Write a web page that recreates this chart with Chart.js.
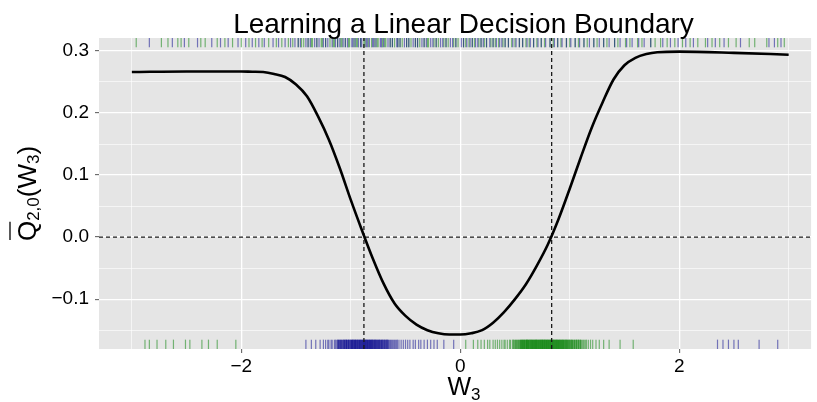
<!DOCTYPE html>
<html>
<head>
<meta charset="utf-8">
<script src="https://cdn.jsdelivr.net/npm/chart.js@4"></script>
<style>
  body { margin: 0; background: #fff; }
  #chart { display: block; }
</style>
</head>
<body>
<canvas id="chart" width="817" height="402"></canvas>
<script>
// Крива Q(W3)
const curveX = [-3.0, -2.5, -2.0, -1.9, -1.8, -1.7, -1.6, -1.5, -1.4, -1.3, -1.2, -1.1, -1.0, -0.9, -0.8, -0.7, -0.6, -0.5, -0.4, -0.3, -0.2, -0.1,
    0.0, 0.1, 0.2, 0.3, 0.4, 0.5, 0.6, 0.7, 0.8, 0.9, 1.0, 1.1, 1.2, 1.3, 1.4, 1.5, 1.6, 1.7, 1.8, 2.0, 2.5, 3.0];
const curveY = [0.266, 0.267, 0.267, 0.2665, 0.266, 0.263, 0.258, 0.246, 0.227, 0.195, 0.157, 0.111, 0.060, 0.012, -0.034, -0.075, -0.107, -0.127, -0.141, -0.150, -0.155, -0.157,
    -0.157, -0.155, -0.150, -0.138, -0.121, -0.100, -0.076, -0.046, -0.012, 0.030, 0.078, 0.128, 0.176, 0.217, 0.254, 0.277, 0.289, 0.295, 0.298, 0.299, 0.297, 0.294];

// Пунктирні межі
const boundaryX = [-0.88, 0.835];
const refY = [0];

// Килимок (rug) зверху
const rugTopBlue = [-2.84, -2.63, -2.52, -2.40, -2.27, -2.19, -2.12, -2.03, -1.96, -1.90, -1.84, -1.79, -1.71, -1.66, -1.60, -1.55, -1.51, -1.46,
    -1.41, -1.37, -1.33, -1.29, -1.25, -1.21, -1.17, -1.14, -1.10, -1.07, -1.03, -0.99, -0.96, -0.93, -0.90, -0.86, -0.83, -0.80, -0.77, -0.73,
    -0.70, -0.66, -0.62, -0.58, -0.55, -0.51, -0.47, -0.43, -0.39, -0.35, -0.31, -0.27, -0.22, -0.18, -0.13, -0.09, -0.04, 0.01, 0.06, 0.11,
    0.16, 0.21, 0.27, 0.33, 0.38, 0.44, 0.51, 0.57, 0.64, 0.71, 0.78, 0.86, 0.93, 1.01, 1.09, 1.18, 1.27, 1.36, 1.46, 1.57, 1.68, 1.85, 1.92,
    1.99, 2.06, 2.13, 2.26, 2.33, 2.41, 2.56, 2.82, 2.87, 2.93,
    -1.48, -1.39, -1.31, -1.23, -1.12, -1.05, -0.98, -0.91, -0.85, -0.79, -0.72, -0.64, -0.57, -0.49, -0.41, -0.33, -0.25, -0.16, -0.07,
    0.03, 0.09, 0.14, 0.19, 0.24, 0.30, 0.36, 0.41, 0.48, 0.54, 0.61, 0.67, 0.74, 0.82, 0.89, 0.97, 1.05, 1.13, 1.22, 1.31, 1.41, 1.52, 1.63, 1.74];
const rugTopGreen = [-2.96, -2.73, -2.67, -2.58, -2.55, -2.48, -2.37, -2.33, -2.22, -2.15, -2.08, -2.00, -1.93, -1.87, -1.81, -1.75, -1.68, -1.63,
    -1.57, -1.53, -1.48, -1.43, -1.39, -1.35, -1.31, -1.27, -1.23, -1.19, -1.15, -1.12, -1.08, -1.05, -1.01, -0.97, -0.94, -0.91, -0.88, -0.84,
    -0.81, -0.78, -0.75, -0.71, -0.68, -0.64, -0.60, -0.57, -0.53, -0.49, -0.45, -0.41, -0.37, -0.33, -0.29, -0.24, -0.20, -0.15, -0.11, -0.06,
    -0.02, 0.03, 0.08, 0.13, 0.19, 0.24, 0.30, 0.35, 0.41, 0.47, 0.54, 0.60, 0.67, 0.74, 0.82, 0.89, 0.97, 1.05, 1.13, 1.22, 1.31, 1.41, 1.51,
    1.62, 1.74, 1.83, 1.89, 1.96, 2.03, 2.10, 2.17, 2.24, 2.30, 2.37, 2.45, 2.52, 2.64, 2.69, 2.80, 2.90, 2.96,
    -1.45, -1.36, -1.26, -1.16, -1.09, -1.02, -0.95, -0.87, -0.76, -0.69, -0.62, -0.55, -0.47, -0.39, -0.30, -0.22, -0.13, -0.04,
    0.05, 0.11, 0.17, 0.22, 0.28, 0.32, 0.39, 0.44, 0.50, 0.57, 0.63, 0.70, 0.77, 0.85, 0.92, 1.00, 1.08, 1.16, 1.25, 1.34, 1.44, 1.55, 1.66, 1.78];

// Килимок знизу
const rugBottomBlue = [-1.41, -1.36, -1.32, -1.28, -1.25, -1.23, -1.21, -1.20, -1.18, -1.17, -1.15, -1.14,
    -1.128, -1.121, -1.115, -1.108, -1.101, -1.096, -1.089, -1.083, -1.077, -1.071, -1.066, -1.059, -1.054, -1.048, -1.042, -1.037,
    -1.031, -1.026, -1.019, -1.014, -1.008, -1.003, -0.998, -0.992, -0.987, -0.981, -0.976, -0.971, -0.965, -0.959, -0.954, -0.949,
    -0.944, -0.938, -0.933, -0.927, -0.922, -0.917, -0.911, -0.906, -0.901, -0.895, -0.889, -0.884, -0.879, -0.873, -0.868, -0.862,
    -0.857, -0.851, -0.846, -0.841, -0.835, -0.829, -0.824, -0.818, -0.813, -0.807, -0.801, -0.796, -0.789, -0.783, -0.777, -0.771,
    -0.764, -0.758, -0.752, -0.745, -0.738, -0.732, -0.725, -0.718, -0.711, -0.703, -0.696, -0.688, -0.681, -0.673, -0.665, -0.657,
    -0.648, -0.639, -0.631, -0.622, -0.613, -0.603, -0.594, -0.584, -0.574,
    -0.56, -0.54, -0.52, -0.50, -0.48, -0.46, -0.43, -0.41, -0.38, -0.36, -0.33, -0.30, -0.27, -0.24, -0.21, -0.15, -0.06,
    2.35, 2.40, 2.45, 2.50, 2.54, 2.73, 2.90,
    -1.11, -1.09, -1.06, -1.04, -1.02, -0.995, -0.984, -0.968, -0.957, -0.941, -0.925, -0.914, -0.898, -0.887, -0.876, -0.865, -0.853,
    -0.843, -0.832, -0.821, -0.810, -0.798, -0.786, -0.774, -0.761, -0.748, -0.735, -0.721, -0.707, -0.692, -0.677, -0.661];
const rugBottomGreen = [-2.88, -2.84, -2.77, -2.69, -2.62, -2.51, -2.47, -2.36, -2.30, -2.22, -2.05,
    0.05, 0.12, 0.16, 0.19, 0.22, 0.25, 0.27, 0.30, 0.32, 0.34, 0.36, 0.38, 0.40, 0.41, 0.43, 0.45, 0.46,
    0.478, 0.486, 0.493, 0.501, 0.507, 0.512, 0.519, 0.526, 0.531, 0.538, 0.544, 0.549, 0.556, 0.561, 0.567, 0.572, 0.579, 0.584,
    0.588, 0.594, 0.601, 0.606, 0.611, 0.617, 0.622, 0.628, 0.633, 0.638, 0.644, 0.651, 0.655, 0.661, 0.666, 0.672, 0.677, 0.683,
    0.688, 0.694, 0.699, 0.704, 0.711, 0.716, 0.722, 0.727, 0.731, 0.737, 0.743, 0.748, 0.752, 0.758, 0.764, 0.769, 0.774, 0.781,
    0.786, 0.791, 0.797, 0.803, 0.808, 0.813, 0.819, 0.824, 0.829, 0.836, 0.841, 0.846, 0.852, 0.857, 0.863, 0.868, 0.874, 0.879,
    0.885, 0.891, 0.896, 0.902, 0.907, 0.913, 0.919, 0.924, 0.931, 0.937, 0.942, 0.948, 0.955, 0.961, 0.968, 0.974, 0.981, 0.987,
    0.994, 1.002, 1.009, 1.017, 1.024, 1.032, 1.041, 1.049, 1.058, 1.066, 1.075, 1.084, 1.093, 1.103, 1.112, 1.122, 1.131, 1.142, 1.153,
    1.17, 1.19, 1.21, 1.24, 1.27, 1.31, 1.36, 1.46, 1.58,
    0.553, 0.565, 0.576, 0.591, 0.604, 0.614, 0.625, 0.641, 0.653, 0.664, 0.675, 0.686, 0.697, 0.708, 0.719, 0.733, 0.745, 0.756, 0.767,
    0.778, 0.789, 0.800, 0.811, 0.822, 0.833, 0.844, 0.855, 0.866, 0.877, 0.888, 0.899, 0.911, 0.922, 0.934, 0.946, 0.958, 0.971, 0.984,
    0.998, 1.013, 1.028, 1.045, 1.062, 1.080, 1.098];

// Поділки осей
const xTicks = [-3, -2, -1, 0, 1, 2, 3];
const xLabelTicks = [-2, 0, 2];
const yTicks = [-0.15, -0.1, -0.05, 0, 0.05, 0.1, 0.15, 0.2, 0.25, 0.3];
const yLabelTicks = [-0.1, 0, 0.1, 0.2, 0.3];

const X_MIN = -3.30, X_MAX = 3.205;
const Y_MIN = -0.1803, Y_MAX = 0.3209;

const FONT = '"Liberation Sans", Arial, Helvetica, sans-serif';
const BLUE = 'rgba(0, 0, 139, 0.5)';
const GREEN = 'rgba(0, 128, 0, 0.5)';

const rugTopY = Y_MAX - (Y_MAX - Y_MIN) * 0.015;
const rugBottomY = Y_MIN + (Y_MAX - Y_MIN) * 0.015;

function isLabelTick(list, v) {
    return list.some(t => Math.abs(t - v) < 1e-9);
}

function fmtY(v) {
    const s = Math.abs(v).toFixed(1);
    return v < -1e-9 ? '\u2212' + s : s;
}

function rugDataset(xs, y, color) {
    return {
        data: xs.map(x => ({ x: x, y: y })),
        showLine: false,
        pointStyle: 'line',
        pointRotation: 90,
        pointRadius: 4.7,
        pointHoverRadius: 4.7,
        borderColor: color,
        backgroundColor: color,
        borderWidth: 1.2
    };
}

function dashedDataset(points) {
    return {
        data: points,
        showLine: true,
        borderColor: '#1a1a1a',
        borderWidth: 1.3,
        borderDash: [4, 3],
        pointRadius: 0,
        fill: false
    };
}

// Фон панелі в стилі ggplot
const panelBg = {
    id: 'panelBg',
    beforeDraw(chart) {
        const a = chart.chartArea;
        const ctx = chart.ctx;
        ctx.save();
        ctx.fillStyle = '#E5E5E5';
        ctx.fillRect(a.left, a.top, a.right - a.left, a.bottom - a.top);
        ctx.restore();
    }
};

// Малює послідовність шматків тексту з підрядковими індексами
function drawPieces(ctx, pieces, startX) {
    let x = startX;
    pieces.forEach(p => {
        ctx.font = p.size + 'px ' + FONT;
        ctx.fillText(p.t, x, p.dy || 0);
        const w = ctx.measureText(p.t).width;
        if (p.over) {
            ctx.beginPath();
            ctx.lineWidth = 1.3;
            ctx.moveTo(x + 1, -26);
            ctx.lineTo(x + w - 1, -26);
            ctx.stroke();
        }
        x += w;
    });
}

function piecesWidth(ctx, pieces) {
    return pieces.reduce((s, p) => {
        ctx.font = p.size + 'px ' + FONT;
        return s + ctx.measureText(p.t).width;
    }, 0);
}

const labelsPlugin = {
    id: 'labelsPlugin',
    afterDraw(chart) {
        const ctx = chart.ctx;
        ctx.save();
        ctx.fillStyle = '#000';
        ctx.strokeStyle = '#000';
        ctx.textBaseline = 'alphabetic';
        ctx.textAlign = 'left';

        // Заголовок
        ctx.font = '28px ' + FONT;
        ctx.textAlign = 'center';
        ctx.fillText('Learning a Linear Decision Boundary', 463.5, 33);
        ctx.textAlign = 'left';

        // Підпис осі X
        const xPieces = [{ t: 'W', size: 25 }, { t: '3', size: 17, dy: 5 }];
        ctx.save();
        ctx.translate(464, 395);
        drawPieces(ctx, xPieces, -piecesWidth(ctx, xPieces) / 2);
        ctx.restore();

        // Підпис осі Y
        const yPieces = [
            { t: 'Q', size: 26, over: true },
            { t: '2,0', size: 17, dy: 3 },
            { t: '(W', size: 26 },
            { t: '3', size: 17, dy: 3 },
            { t: ')', size: 26 }
        ];
        ctx.save();
        ctx.translate(36, 193.5);
        ctx.rotate(-Math.PI / 2);
        drawPieces(ctx, yPieces, -piecesWidth(ctx, yPieces) / 2);
        ctx.restore();

        ctx.restore();
    }
};

const datasets = [
    {
        data: curveX.map((x, i) => ({ x: x, y: curveY[i] })),
        showLine: true,
        borderColor: '#000',
        borderWidth: 2.6,
        pointRadius: 0,
        cubicInterpolationMode: 'monotone',
        fill: false
    },
    ...boundaryX.map(bx => dashedDataset([{ x: bx, y: Y_MIN }, { x: bx, y: Y_MAX }])),
    ...refY.map(ry => dashedDataset([{ x: X_MIN, y: ry }, { x: X_MAX, y: ry }])),
    rugDataset(rugTopBlue, rugTopY, BLUE),
    rugDataset(rugTopGreen, rugTopY, GREEN),
    rugDataset(rugBottomBlue, rugBottomY, BLUE),
    rugDataset(rugBottomGreen, rugBottomY, GREEN)
];

const ctx = document.getElementById('chart').getContext('2d');
new Chart(ctx, {
    type: 'scatter',
    data: { datasets: datasets },
    options: {
        responsive: false,
        animation: false,
        devicePixelRatio: 1,
        layout: { padding: { top: 38, left: 0, right: 0, bottom: 0 } },
        plugins: {
            legend: { display: false },
            title: { display: false },
            tooltip: { enabled: false }
        },
        scales: {
            x: {
                type: 'linear',
                min: X_MIN,
                max: X_MAX,
                afterBuildTicks: scale => { scale.ticks = xTicks.map(v => ({ value: v })); },
                afterFit: scale => { scale.height = 53; },
                border: { display: false },
                grid: {
                    color: '#FFFFFF',
                    lineWidth: c => isLabelTick(xLabelTicks, c.tick.value) ? 1.3 : 0.6,
                    drawTicks: true,
                    tickLength: 4,
                    tickWidth: 1,
                    tickColor: c => isLabelTick(xLabelTicks, c.tick.value) ? '#555' : 'rgba(0,0,0,0)'
                },
                ticks: {
                    autoSkip: false,
                    maxRotation: 0,
                    padding: 2,
                    color: '#000',
                    font: { family: FONT, size: 19 },
                    callback: v => isLabelTick(xLabelTicks, v) ? (v < 0 ? '\u2212' + Math.abs(v) : String(v)) : ''
                }
            },
            y: {
                type: 'linear',
                min: Y_MIN,
                max: Y_MAX,
                afterBuildTicks: scale => { scale.ticks = yTicks.map(v => ({ value: v })); },
                afterFit: scale => { scale.width = 99; },
                border: { display: false },
                grid: {
                    color: '#FFFFFF',
                    lineWidth: c => isLabelTick(yLabelTicks, c.tick.value) ? 1.3 : 0.6,
                    drawTicks: true,
                    tickLength: 4,
                    tickWidth: 1,
                    tickColor: c => isLabelTick(yLabelTicks, c.tick.value) ? '#555' : 'rgba(0,0,0,0)'
                },
                ticks: {
                    autoSkip: false,
                    padding: 6,
                    color: '#000',
                    font: { family: FONT, size: 19 },
                    callback: v => isLabelTick(yLabelTicks, v) ? fmtY(v) : ''
                }
            }
        }
    },
    plugins: [panelBg, labelsPlugin]
});
</script>
</body>
</html>
